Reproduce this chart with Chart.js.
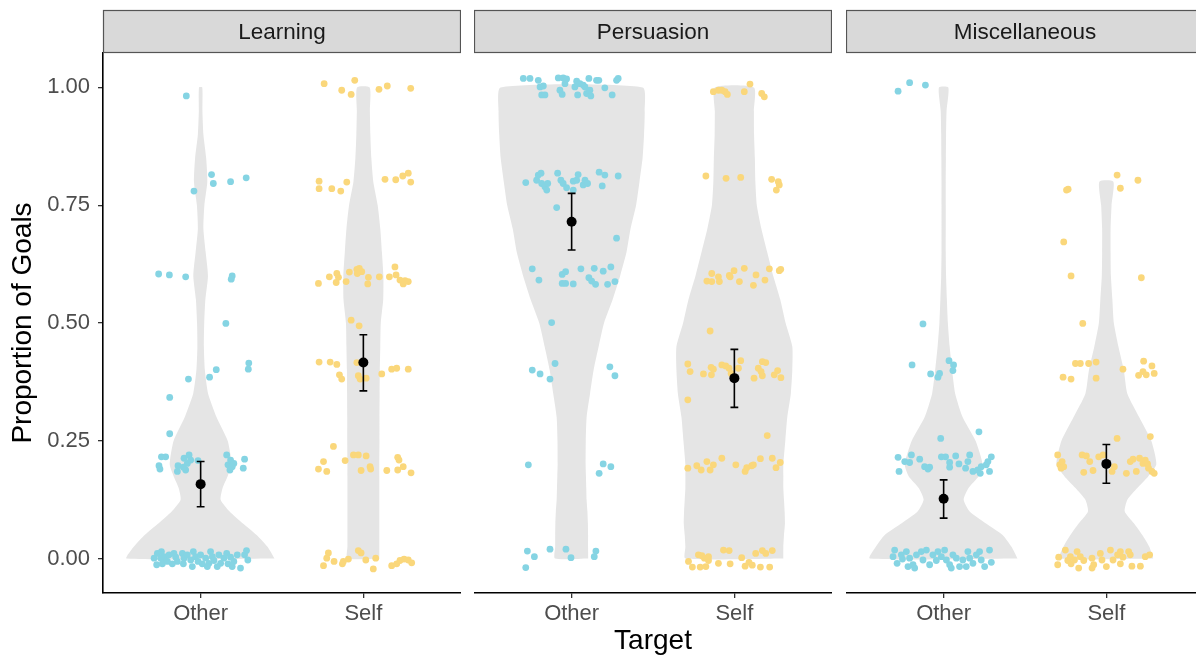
<!DOCTYPE html>
<html>
<head>
<meta charset="utf-8">
<script src="https://cdn.jsdelivr.net/npm/chart.js@4.4.0/dist/chart.umd.min.js"></script>
<style>
  html, body { margin: 0; padding: 0; background: #fff; overflow: hidden; }
  #wrap { position: relative; width: 1204px; height: 658px; }
  #wrap canvas { position: absolute; top: 0; }
</style>
</head>
<body>
<div id="wrap">
  <canvas id="panel0" style="left:0px" width="461" height="658"></canvas>
  <canvas id="panel1" style="left:474px" width="358" height="658"></canvas>
  <canvas id="panel2" style="left:846px" width="358" height="658"></canvas>
</div>
<script>
const panels = ['Learning', 'Persuasion', 'Miscellaneous'];
const targets = ['Other', 'Self'];
const yTicks = [0, 0.25, 0.5, 0.75, 1];

// violin outlines: half-width (x units) at each proportion level
const violinLevels = [0, 0.025, 0.05, 0.075, 0.1, 0.125, 0.15, 0.175, 0.2, 0.25, 0.3, 0.35, 0.4, 0.45, 0.5, 0.55, 0.6, 0.65, 0.7, 0.75, 0.8, 0.85, 0.9, 0.95, 1];
const learningOtherViolin = [0.454, 0.411, 0.344, 0.258, 0.178, 0.123, 0.135, 0.166, 0.190, 0.166, 0.098, 0.046, 0.026, 0.020, 0.022, 0.029, 0.045, 0.031, 0.017, 0.023, 0.041, 0.034, 0.017, 0.011, 0.010];
const learningSelfViolin = [0.098, 0.098, 0.098, 0.098, 0.098, 0.098, 0.098, 0.098, 0.098, 0.099, 0.099, 0.100, 0.101, 0.104, 0.107, 0.122, 0.123, 0.114, 0.104, 0.088, 0.061, 0.049, 0.043, 0.040, 0.039];
const persuasionOtherViolin = [0.102, 0.101, 0.101, 0.100, 0.097, 0.092, 0.090, 0.088, 0.086, 0.087, 0.092, 0.113, 0.135, 0.166, 0.199, 0.252, 0.298, 0.337, 0.362, 0.396, 0.417, 0.436, 0.445, 0.449, 0.436];
const persuasionSelfViolin = [0.301, 0.301, 0.305, 0.311, 0.309, 0.305, 0.301, 0.301, 0.301, 0.313, 0.325, 0.347, 0.356, 0.356, 0.315, 0.282, 0.239, 0.202, 0.166, 0.138, 0.129, 0.126, 0.121, 0.120, 0.120];
const miscOtherViolin = [0.454, 0.417, 0.362, 0.258, 0.160, 0.123, 0.153, 0.215, 0.239, 0.196, 0.117, 0.071, 0.052, 0.037, 0.026, 0.020, 0.015, 0.013, 0.013, 0.013, 0.013, 0.014, 0.015, 0.018, 0.029];
const miscSelfViolin = [0.288, 0.264, 0.221, 0.169, 0.113, 0.129, 0.190, 0.258, 0.307, 0.276, 0.202, 0.129, 0.107, 0.074, 0.046, 0.037, 0.028, 0.026, 0.026, 0.032, 0.043, null, null, null, null];

// jittered observations: [x, proportion]
const learningOther = [
  [0.912,0.982],[1.067,0.815],[0.959,0.780],[1.078,0.796],[1.184,0.800],[1.280,0.808],
  [0.742,0.604],[0.808,0.602],[0.908,0.598],[1.194,0.600],[1.188,0.593],[1.155,0.499],
  [1.296,0.415],[1.293,0.402],[1.096,0.401],[1.055,0.385],[0.925,0.381],[0.810,0.342],[0.810,0.265],
  [0.759,0.216],[0.785,0.216],[0.744,0.197],[0.750,0.190],[0.861,0.197],[0.857,0.185],[0.898,0.213],
  [0.929,0.220],[0.918,0.202],[0.908,0.188],[0.939,0.209],[0.894,0.194],[0.984,0.208],[1.160,0.220],
  [1.168,0.199],[1.184,0.209],[1.204,0.202],[1.180,0.188],[1.270,0.211],[1.262,0.192],[1.194,0.195],
  [0.714,0.001],[0.734,0.011],[0.730,-0.013],[0.759,0.015],[0.775,0.004],[0.785,-0.004],[0.765,-0.011],
  [0.806,0.008],[0.796,-0.006],[0.847,0.003],[0.857,-0.006],[0.888,0.011],[0.898,0.001],[0.894,-0.011],
  [0.918,0.008],[0.939,-0.003],[0.955,0.015],[0.969,0.004],[0.984,-0.006],[1.000,0.008],[1.010,-0.011],
  [1.031,0.001],[1.051,-0.010],[1.061,0.015],[1.072,0.004],[1.082,-0.004],[1.112,0.008],[1.123,-0.010],
  [1.143,0.001],[1.160,0.011],[1.168,-0.011],[1.184,0.003],[1.204,-0.006],[1.225,0.008],[1.245,-0.020],
  [1.270,0.008],[1.282,0.017],[1.290,-0.003],[0.755,0.001],[0.826,-0.011],[0.949,-0.017],[1.041,-0.017],
  [1.102,-0.017],[1.194,-0.017],[0.836,0.011]
];
const learningSelf = [
  [1.759,1.008],[1.947,1.015],[1.867,0.994],[1.925,0.985],[2.096,0.996],[2.147,1.003],[2.291,0.998],
  [1.728,0.801],[1.728,0.785],[1.806,0.785],[1.861,0.780],[1.898,0.799],[2.133,0.805],[2.199,0.804],
  [2.242,0.812],[2.276,0.818],[2.291,0.799],
  [1.724,0.584],[1.791,0.598],[1.837,0.605],[1.833,0.586],[1.847,0.597],[1.894,0.588],[1.914,0.608],
  [1.960,0.614],[1.975,0.616],[1.990,0.609],[1.963,0.605],[2.031,0.597],[2.027,0.583],[2.098,0.598],
  [2.160,0.598],[2.194,0.619],[2.201,0.602],[2.225,0.591],[2.245,0.583],[2.276,0.588],[2.256,0.590],
  [1.925,0.506],[1.974,0.494],
  [1.728,0.417],[1.796,0.417],[1.837,0.412],[1.853,0.390],[1.867,0.381],[1.960,0.416],[1.969,0.388],
  [1.980,0.381],[2.017,0.383],[2.113,0.392],[2.174,0.402],[2.205,0.404],[2.276,0.402],
  [1.816,0.238],
  [1.724,0.190],[1.755,0.206],[1.775,0.185],[1.888,0.208],[1.939,0.220],[1.969,0.220],[2.017,0.218],
  [1.986,0.187],[2.041,0.195],[2.045,0.190],[2.144,0.187],[2.211,0.215],[2.219,0.209],[2.211,0.188],
  [2.245,0.195],[2.293,0.182],
  [1.755,-0.015],[1.785,0.012],[1.775,0.001],[1.820,-0.006],[1.871,-0.011],[1.877,-0.006],[1.908,-0.001],
  [1.969,0.017],[1.986,0.012],[2.015,-0.003],[2.061,-0.022],[2.076,0.001],[2.174,-0.015],[2.205,-0.011],
  [2.225,-0.004],[2.250,-0.001],[2.276,-0.003],[2.297,-0.009]
];
const persuasionOther = [
  [0.703,1.019],[0.744,1.019],[0.795,1.015],[0.806,1.001],[0.826,1.003],[0.816,0.984],[0.836,0.984],
  [0.918,1.020],[0.948,1.020],[0.969,1.018],[0.959,1.008],[0.928,0.994],[0.942,0.985],[1.031,1.013],
  [1.020,1.001],[1.051,1.008],[1.071,1.005],[1.082,1.001],[1.037,0.984],[1.092,0.987],[1.112,0.994],
  [1.118,0.982],[1.106,1.019],[1.153,1.015],[1.167,1.015],[1.204,0.999],[1.249,0.984],[1.286,1.019],
  [1.276,1.015],
  [0.718,0.798],[0.785,0.803],[0.795,0.814],[0.812,0.818],[0.816,0.796],[0.836,0.789],[0.853,0.796],
  [0.847,0.782],[0.914,0.818],[0.934,0.803],[0.948,0.796],[0.969,0.787],[1.010,0.801],[1.031,0.803],
  [1.040,0.815],[1.071,0.793],[1.082,0.803],[1.098,0.796],[1.169,0.820],[1.204,0.814],[1.188,0.791],
  [1.286,0.812],[1.010,0.782],
  [0.908,0.745],[1.276,0.680],
  [0.758,0.615],[0.799,0.591],[0.942,0.603],[0.963,0.609],[0.942,0.584],[0.963,0.584],[1.010,0.583],
  [1.057,0.615],[1.106,0.596],[1.139,0.616],[1.123,0.589],[1.147,0.582],[1.194,0.610],[1.241,0.619],
  [1.221,0.582],[1.266,0.588],
  [0.877,0.501],[0.898,0.414],[0.758,0.400],[0.806,0.392],[0.867,0.381],[1.235,0.407],[1.266,0.388],
  [0.734,0.199],[1.194,0.201],[1.241,0.195],[1.169,0.181],
  [0.728,0.016],[0.771,0.004],[0.718,-0.019],[0.867,0.020],[0.965,0.020],[0.996,0.002],[1.149,0.016],
  [1.139,0.004]
];
const persuasionSelf = [
  [2.096,1.007],[1.871,0.991],[1.902,0.994],[1.923,0.994],[1.943,0.991],[1.957,0.985],[2.061,0.991],
  [2.168,0.987],[2.184,0.980],
  [1.825,0.812],[1.949,0.807],[2.039,0.809],[2.229,0.805],[2.270,0.800],[2.276,0.793],[2.258,0.782],
  [1.861,0.605],[1.902,0.598],[1.831,0.589],[1.861,0.588],[1.908,0.588],[1.969,0.601],[1.998,0.611],
  [2.031,0.588],[2.061,0.616],[2.133,0.602],[2.117,0.580],[2.188,0.591],[2.215,0.615],[2.276,0.611],
  [2.285,0.614],[1.974,0.598],
  [1.851,0.483],
  [1.714,0.413],[1.728,0.397],[1.810,0.392],[1.857,0.406],[1.871,0.402],[1.859,0.390],[1.923,0.411],
  [1.947,0.409],[1.967,0.404],[1.980,0.393],[2.025,0.404],[2.039,0.420],[2.121,0.383],[2.147,0.404],
  [2.164,0.397],[2.172,0.418],[2.193,0.416],[2.172,0.388],[2.245,0.390],[2.266,0.399],[2.286,0.384],
  [1.714,0.337],[2.202,0.261],
  [1.714,0.192],[1.769,0.197],[1.796,0.188],[1.831,0.206],[1.851,0.188],[1.871,0.199],[1.923,0.213],
  [2.009,0.199],[2.066,0.185],[2.076,0.193],[2.107,0.197],[2.117,0.199],[2.160,0.212],[2.233,0.213],
  [2.256,0.193],[2.282,0.204],
  [1.718,-0.006],[1.742,-0.018],[1.779,0.008],[1.790,-0.018],[1.816,0.001],[1.825,-0.017],[1.841,-0.004],
  [1.902,-0.010],[1.933,0.018],[1.968,0.017],[1.974,-0.011],[2.045,0.002],[2.066,-0.016],[2.090,-0.008],
  [2.110,-0.014],[2.131,0.011],[2.160,-0.018],[2.172,0.017],[2.193,0.011],[2.217,-0.018],[2.233,0.017],
  [1.800,0.006],[1.841,0.004]
];
const miscOther = [
  [0.720,0.992],[0.791,1.010],[0.888,1.005],[0.873,0.498],
  [0.806,0.411],[0.920,0.392],[0.965,0.385],[0.975,0.393],[1.033,0.420],[1.061,0.411],[1.057,0.399],
  [1.217,0.269],[0.982,0.255],
  [0.720,0.215],[0.761,0.206],[0.802,0.220],[0.791,0.204],[0.726,0.185],[0.853,0.211],[0.883,0.195],
  [0.914,0.194],[0.904,0.190],[0.986,0.216],[1.012,0.216],[1.037,0.204],[1.037,0.194],[1.074,0.218],
  [1.094,0.201],[1.160,0.220],[1.149,0.206],[1.135,0.192],[1.180,0.185],[1.210,0.188],[1.231,0.195],
  [1.262,0.199],[1.282,0.185],[1.293,0.216],[1.272,0.206],[1.225,0.181],
  [0.699,0.018],[0.714,-0.010],[0.740,0.008],[0.771,0.015],[0.791,0.001],[0.812,-0.013],[0.833,0.008],
  [0.863,0.015],[0.894,0.018],[0.873,-0.003],[0.914,-0.013],[0.934,0.008],[0.965,0.015],[0.986,0.004],
  [1.006,0.018],[1.017,-0.003],[1.037,-0.013],[1.057,0.008],[1.078,0.001],[1.098,-0.017],[1.118,-0.003],
  [1.149,0.015],[1.160,0.001],[1.180,-0.010],[1.201,0.008],[1.221,0.015],[1.231,-0.003],[1.252,-0.017],
  [1.282,0.018],[1.293,-0.008],[0.747,-0.001],[0.822,-0.020],[0.955,-0.004],[1.047,-0.020],[1.139,-0.017],
  [0.689,0.004],[0.781,-0.017]
];
const miscSelf = [
  [2.066,0.814],[2.194,0.803],[2.086,0.786],[1.755,0.782],[1.765,0.784],[1.738,0.672],[1.783,0.600],
  [2.215,0.596],[1.855,0.499],
  [1.810,0.414],[1.840,0.414],[1.891,0.414],[1.937,0.417],[1.937,0.383],[1.734,0.385],[1.783,0.381],
  [2.102,0.402],[2.229,0.419],[2.280,0.409],[2.225,0.397],[2.198,0.389],[2.245,0.390],[2.294,0.393],
  [2.066,0.255],[2.270,0.259],
  [1.701,0.220],[1.714,0.199],[1.728,0.206],[1.738,0.195],[1.722,0.192],[1.851,0.220],[1.877,0.218],
  [1.898,0.206],[1.861,0.183],[1.918,0.187],[1.953,0.216],[1.980,0.220],[2.035,0.185],[2.049,0.195],
  [2.123,0.181],[2.147,0.206],[2.164,0.211],[2.184,0.185],[2.204,0.213],[2.225,0.202],[2.253,0.201],
  [2.259,0.192],[2.280,0.185],[2.294,0.181],[2.239,0.209],
  [1.707,0.003],[1.701,-0.013],[1.748,0.018],[1.763,-0.004],[1.783,-0.011],[1.804,-0.003],[1.820,0.015],
  [1.840,0.004],[1.830,-0.020],[1.861,-0.004],[1.912,0.001],[1.922,-0.013],[1.912,-0.020],[1.963,0.011],
  [1.973,-0.003],[2.000,-0.017],[2.025,0.018],[2.041,-0.003],[2.069,0.008],[2.086,-0.011],[2.102,0.003],
  [2.137,0.015],[2.147,0.008],[2.157,-0.016],[2.209,-0.016],[2.239,0.004],[2.266,0.008],[1.779,0.004],
  [2.086,0.015]
];

// group means with error bar limits, Other then Self
const learningMean = [0.158, 0.416];
const learningLow = [0.110, 0.356];
const learningHigh = [0.206, 0.475];
const persuasionMean = [0.715, 0.383];
const persuasionLow = [0.655, 0.321];
const persuasionHigh = [0.775, 0.444];
const miscMean = [0.127, 0.201];
const miscLow = [0.086, 0.160];
const miscHigh = [0.167, 0.242];

const blue = '#85D4E3';
const yellow = '#FAD77B';
const FONT = "'Liberation Sans', Arial, Helvetica, sans-serif";

const panelData = [
  { violins: [learningOtherViolin, learningSelfViolin], points: [learningOther, learningSelf],
    mean: learningMean, low: learningLow, high: learningHigh },
  { violins: [persuasionOtherViolin, persuasionSelfViolin], points: [persuasionOther, persuasionSelf],
    mean: persuasionMean, low: persuasionLow, high: persuasionHigh },
  { violins: [miscOtherViolin, miscSelfViolin], points: [miscOther, miscSelf],
    mean: miscMean, low: miscLow, high: miscHigh }
];

// closed outline: up the right side, back down the left
function violinOutline(center, widths) {
  const right = [], left = [];
  violinLevels.forEach((y, i) => {
    const w = widths[i];
    if (w == null) return;
    right.push({ x: center + w, y });
    left.unshift({ x: center - w, y });
  });
  return right.concat(left, [right[0]]);
}

// one polyline per bar: lower cap, stem, upper cap
function errorBar(center, lo, hi) {
  const c = 0.024;
  return [
    { x: center - c, y: lo }, { x: center + c, y: lo }, { x: center, y: lo },
    { x: center, y: hi }, { x: center - c, y: hi }, { x: center + c, y: hi }
  ];
}

const stripPlugin = {
  id: 'strip',
  afterDraw(chart, args, opts) {
    const { ctx, chartArea: a } = chart;
    const top = a.top - 42.5;
    ctx.save();
    ctx.fillStyle = '#d9d9d9';
    ctx.strokeStyle = '#555';
    ctx.lineWidth = 1.2;
    ctx.fillRect(a.left + 0.5, top, a.right - a.left - 1, 42);
    ctx.strokeRect(a.left + 0.5, top, a.right - a.left - 1, 42);
    ctx.fillStyle = '#1a1a1a';
    ctx.font = '22.5px ' + FONT;
    ctx.textAlign = 'center';
    ctx.textBaseline = 'middle';
    ctx.fillText(opts.text, (a.left + a.right) / 2, top + 22);
    ctx.restore();
  }
};

const gridStyle = { display: true, drawOnChartArea: false, drawTicks: true, tickLength: 5, color: '#333', lineWidth: 1.3 };
const borderStyle = { display: true, color: '#000', width: 1.6 };

panels.forEach((name, p) => {
  const d = panelData[p];
  const datasets = [];
  [0, 1].forEach(t => {
    datasets.push({
      data: violinOutline(t + 1, d.violins[t]),
      showLine: true, fill: 'shape', tension: 0.2,
      backgroundColor: '#e5e5e5', borderColor: 'rgba(0,0,0,0)', borderWidth: 0,
      pointRadius: 0, order: 4
    });
  });
  [0, 1].forEach(t => {
    datasets.push({
      data: d.points[t].map(([x, y]) => ({ x, y })),
      backgroundColor: t === 0 ? blue : yellow, borderWidth: 0,
      pointRadius: 3.4, order: 3
    });
  });
  [0, 1].forEach(t => {
    datasets.push({
      data: errorBar(t + 1, d.low[t], d.high[t]),
      showLine: true, borderColor: '#000', borderWidth: 1.6, pointRadius: 0, order: 1
    });
  });
  datasets.push({
    data: d.mean.map((m, t) => ({ x: t + 1, y: m })),
    backgroundColor: '#000', borderWidth: 0, pointRadius: 5, order: 0
  });

  const yScale = {
    type: 'linear', min: -0.073, max: 1.073, display: p === 0,
    afterBuildTicks: s => { s.ticks = yTicks.map(v => ({ value: v })); },
    ticks: { callback: v => v.toFixed(2), color: '#4d4d4d', font: { family: FONT, size: 22 }, padding: 8 },
    grid: gridStyle, border: borderStyle,
    title: { display: true, text: 'Proportion of Goals', color: '#000', font: { family: FONT, size: 28 }, padding: { top: 6, bottom: 0 } }
  };
  if (p === 0) yScale.afterFit = s => { s.width = 103; };

  new Chart(document.getElementById('panel' + p), {
    type: 'scatter',
    data: { datasets },
    options: {
      responsive: false, animation: false, events: [],
      layout: { autoPadding: false, padding: { top: 53, left: 0, right: 0, bottom: 0 } },
      scales: {
        x: {
          type: 'linear', min: 0.4, max: 2.6,
          afterBuildTicks: s => { s.ticks = [{ value: 1 }, { value: 2 }]; },
          afterFit: s => { s.height = 65; },
          ticks: { callback: v => targets[v - 1], color: '#4d4d4d', font: { family: FONT, size: 22 },
                   padding: 3, autoSkip: false, maxRotation: 0 },
          grid: gridStyle, border: borderStyle,
          title: { display: p === 1, text: 'Target', color: '#000', font: { family: FONT, size: 28 }, padding: 0 }
        },
        y: yScale
      },
      plugins: { legend: { display: false }, tooltip: { enabled: false }, strip: { text: name } }
    },
    plugins: [stripPlugin]
  });
});
</script>
</body>
</html>
